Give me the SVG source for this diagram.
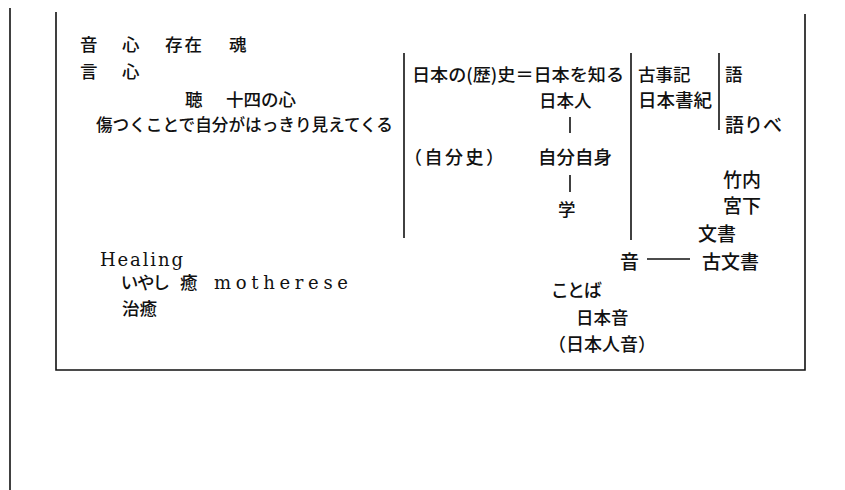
<svg xmlns="http://www.w3.org/2000/svg" width="845" height="490" viewBox="0 0 845 490">
<style>
.j{font-family:"Noto Sans CJK JP","Noto Sans CJK SC",sans-serif;font-size:17.5px;font-weight:500;fill:#111}
.b{font-size:19px}
.p{font-feature-settings:"palt"}
.e{font-family:"DejaVu Serif","Liberation Serif",serif;font-size:18px;fill:#111}
.ln{stroke:#111;stroke-width:1.6;fill:none}
</style>
<rect width="845" height="490" fill="#fff"/>
<g id="connectors" class="ln">
<line x1="10" y1="8" x2="10" y2="490"/>
<polyline points="56,12 56,370 805,370 805,14"/>
<line x1="404" y1="53" x2="404" y2="238"/>
<line x1="631" y1="53" x2="631" y2="240"/>
<line x1="719" y1="53" x2="719" y2="130"/>
<line x1="570" y1="117" x2="570" y2="133"/>
<line x1="570" y1="175" x2="570" y2="192"/>
<line x1="647" y1="259" x2="690" y2="259"/>
</g>
<g id="left-top" class="j">
<text x="80" y="51">音</text>
<text x="122" y="51">心</text>
<text x="165" y="51" letter-spacing="2">存在</text>
<text x="229" y="51">魂</text>
<text x="80" y="78">言</text>
<text x="122" y="78">心</text>
<text x="185" y="106">聴</text>
<text x="226" y="106">十四の心</text>
<text x="96" y="131" textLength="297" lengthAdjust="spacingAndGlyphs">傷つくことで自分がはっきり見えてくる</text>
</g>
<g id="history" class="j">
<text x="412" y="81" textLength="212" lengthAdjust="spacingAndGlyphs">日本の(歴)史＝日本を知る</text>
<text x="539" y="107">日本人</text>
<text x="404" y="164" style="font-size:18px" textLength="100" lengthAdjust="spacing">（自分史）</text>
<text x="538" y="164" style="font-size:18.5px">自分自身</text>
<text x="558" y="216">学</text>
</g>
<g id="records" class="j">
<text x="638" y="81">古事記</text>
<text x="638" y="107" style="font-size:18.5px">日本書紀</text>
<text x="725" y="81">語</text>
<text x="725" y="132" style="font-size:19px">語りべ</text>
</g>
<g id="documents" class="j b">
<text x="723" y="187">竹内</text>
<text x="723" y="213">宮下</text>
<text x="698" y="241">文書</text>
<text x="620" y="269">音</text>
<text x="702" y="269">古文書</text>
</g>
<g id="kotoba" class="j">
<text class="p" x="552" y="297" style="font-size:18px">ことば</text>
<text x="576" y="324">日本音</text>
<text x="548" y="351" style="font-size:18px">（日本人音）</text>
</g>
<g id="healing">
<text class="e" x="100" y="266" textLength="83" lengthAdjust="spacing">Healing</text>
<text class="j p" x="121" y="289">いやし</text>
<text class="j" x="180" y="289">癒</text>
<text class="e" x="214" y="289" textLength="134" lengthAdjust="spacing">motherese</text>
<text class="j" x="122" y="315">治癒</text>
</g>
</svg>
